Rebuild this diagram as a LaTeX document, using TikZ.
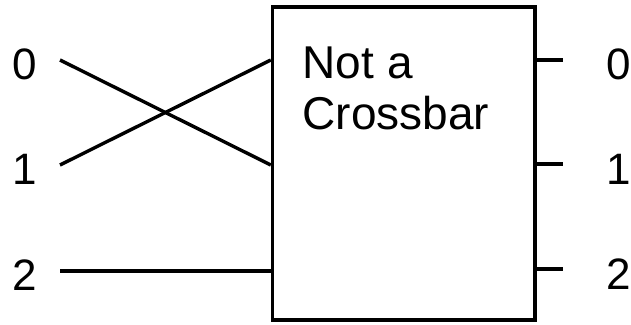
\documentclass[tikz,border=0pt]{standalone}
\usepackage{fontspec}
\setmainfont{Liberation Sans}
\begin{document}
\begin{tikzpicture}[x=1pt,y=-1pt,
  wire/.style={line width=3.4pt},
  lbl/.style={inner sep=0pt,anchor=base,font=\fontsize{44}{51}\selectfont},
  blk/.style={draw,line width=3.4pt,minimum width=262.5pt,minimum height=313pt,inner sep=0pt}]
\useasboundingbox (0,0) rectangle (631,324);
\node[blk] (box) at (403.75,163.5) {};
\node[inner sep=0pt,anchor=base west,align=left,font=\fontsize{46}{51}\selectfont] (title) at (302.5,129) {Not a\\Crossbar};
% left labels
\node[lbl] (l0) at (25,79) {0};
\node[lbl] (l1) at (25,184) {1};
\node[lbl] (l2) at (25,290) {2};
\coordinate (i0) at (60,60);
\coordinate (i1) at (60,165);
\coordinate (i2) at (60,271);
\draw[wire] (i0) -- (box.west |- i1);
\draw[wire] (i1) -- (box.west |- i0);
\draw[wire] (i2) -- (box.west |- i2);
% right
\node[lbl] (r0) at (619,79) {0};
\node[lbl] (r1) at (619,184) {1};
\node[lbl] (r2) at (619,289) {2};
\coordinate (o0) at (563,60);
\coordinate (o1) at (563,164);
\coordinate (o2) at (563,269);
\draw[wire] (box.east |- o0) -- (o0);
\draw[wire] (box.east |- o1) -- (o1);
\draw[wire] (box.east |- o2) -- (o2);
\end{tikzpicture}
\end{document}
